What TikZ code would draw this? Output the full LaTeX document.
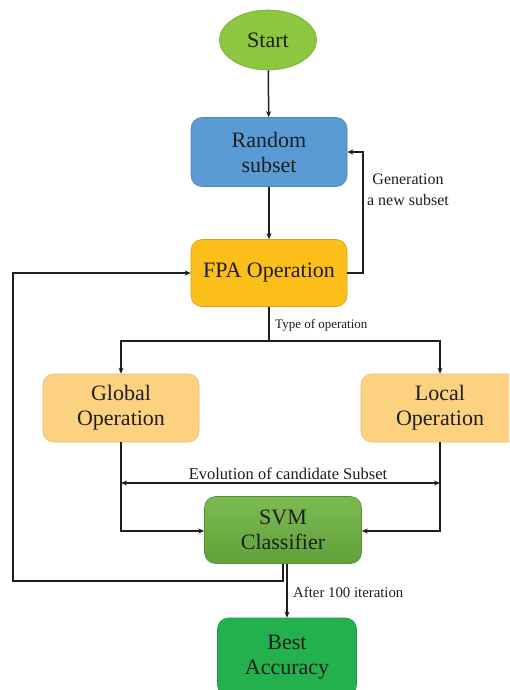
\documentclass[tikz,border=0pt]{standalone}
\usepackage{fontspec}
\setmainfont{Liberation Serif}
\usetikzlibrary{shapes.geometric,arrows.meta}
\definecolor{startgreen}{RGB}{141,198,63}
\definecolor{randblue}{RGB}{91,155,213}
\definecolor{fpagold}{RGB}{252,190,24}
\definecolor{oplight}{RGB}{252,210,128}
\definecolor{svmtop}{RGB}{124,186,82}
\definecolor{svmbot}{RGB}{98,160,58}
\definecolor{bestgreen}{RGB}{34,177,76}
\definecolor{ink}{RGB}{30,30,30}
\tikzset{
  boxtext/.style={font=\fontsize{22pt}{25pt}\selectfont, text=ink, align=center, inner sep=0pt},
  rbox/.style={boxtext, rectangle, rounded corners=11pt, line width=0.6pt},
  conn/.style={draw=ink, line width=1.5pt},
  arr/.style={conn, -{Stealth[length=6pt,width=5pt]}},
  darr/.style={conn, {Stealth[length=6pt,width=5pt]}-{Stealth[length=6pt,width=5pt]}},
  lbl/.style={text=ink, inner sep=0pt}
}
\begin{document}
\begin{tikzpicture}[x=1pt,y=-1pt]
\useasboundingbox (0,0) rectangle (509,690);
\fill[white] (0,0) rectangle (509,690);
\begin{scope}
\clip (0,0) rectangle (509,690);
% nodes
\node[boxtext, ellipse, fill=startgreen, draw=startgreen!85!black, line width=0.6pt, minimum width=97pt, minimum height=60pt] (start) at (268,40) {Start};
\node[rbox, fill=randblue, draw=randblue!85!black, minimum width=156pt, minimum height=69pt] (rand) at (269,152) {Random\\subset};
\node[rbox, fill=fpagold, draw=fpagold!85!black, minimum width=156pt, minimum height=67pt] (fpa) at (269,273) {FPA Operation};
\node[rbox, fill=oplight, draw=oplight!90!black, minimum width=156pt, minimum height=68pt] (glob) at (121,408) {Global\\Operation};
\node[rbox, fill=oplight, draw=oplight!90!black, minimum width=158pt, minimum height=68pt] (loc) at (440,408) {Local\\Operation};
\node[rbox, top color=svmtop, bottom color=svmbot, draw=svmbot!90!black, minimum width=157pt, minimum height=67pt] (svm) at (283,530) {SVM\\Classifier};
\node[rbox, fill=bestgreen, draw=bestgreen!85!black, minimum width=139pt, minimum height=78pt] (best) at (287,657) {Best\\Accuracy};

% helper coordinates
\coordinate (fbR) at (363,273);
\coordinate (fbRt) at (363,152);
\coordinate (split) at (269,341);
\coordinate (splitL) at (121,341);
\coordinate (splitR) at (440,341);
\coordinate (gDown) at (121,531);
\coordinate (lDown) at (440,531);
\coordinate (evL) at (121,483);
\coordinate (evR) at (440,483);
\coordinate (svmOut) at (283,564);
\coordinate (fbB) at (283,581);
\coordinate (fbBL) at (13,581);
\coordinate (fbTL) at (13,273);
\coordinate (svmOut2) at (287,564);

% connectors
\draw[arr] (start) -- (rand);
\draw[arr] (rand) -- (fpa);
\draw[arr] (fpa.east) -- (fbR) -- (fbRt) -- (rand.east);
\draw[conn] (fpa.south) -- (split);
\draw[arr] (split) -- (splitL) -- (glob.north);
\draw[arr] (split) -- (splitR) -- (loc.north);
\draw[arr] (glob.south) -- (gDown) -- (svm.west |- gDown);
\draw[arr] (loc.south) -- (lDown) -- (svm.east |- lDown);
\draw[darr] (evL) -- (evR);
\draw[arr] (svmOut) -- (fbB) -- (fbBL) -- (fbTL) -- (fpa.west);
\draw[arr] (svmOut2) -- (best.north -| svmOut2);

% labels
\node[lbl, anchor=center, align=center, font=\fontsize{16pt}{21pt}\selectfont] (lgen) at (408,190) {Generation\\a new subset};
\node[lbl, anchor=west, font=\fontsize{13pt}{15pt}\selectfont] (ltype) at (275,325) {Type of operation};
\node[lbl, anchor=center, font=\fontsize{16.5pt}{19pt}\selectfont] (levo) at (288,474) {Evolution of candidate Subset};
\node[lbl, anchor=west, font=\fontsize{14.8pt}{17pt}\selectfont] (lafter) at (293,592) {After 100 iteration};
\end{scope}
\end{tikzpicture}
\end{document}
